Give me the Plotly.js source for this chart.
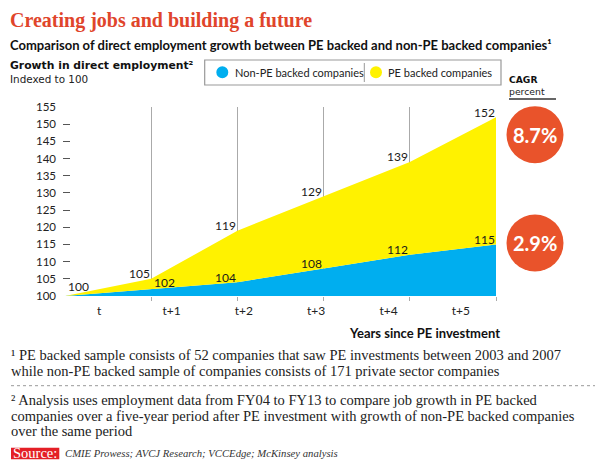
<!DOCTYPE html>
<html><head><meta charset="utf-8">
<script src="https://cdn.plot.ly/plotly-3.0.1.min.js"></script>
<style>body{margin:0;background:#fff}#chart{width:600px;height:467px}</style>
</head><body><div id="chart"></div>
<script>
// ---- data ----
const periods = ['t', 't+1', 't+2', 't+3', 't+4', 't+5'];
const stepIndex = [0, 1, 2, 3, 4, 5];
const peBacked = [100, 105, 119, 129, 139, 152];
const nonPeBacked = [100, 102, 104, 108, 112, 115];
const yTicks = [100, 105, 110, 115, 120, 125, 130, 135, 140, 145, 150, 155];
const seriesNames = ['Non-PE backed companies', 'PE backed companies'];
const cagrLabels = ['8.7%', '2.9%'];

// ---- styling / geometry ----
const SANS = 'Lato, "Open Sans", sans-serif';
const WIDE = '"DejaVu Sans", sans-serif';
const SERIF = '"Liberation Serif", "DejaVu Serif", serif';
const W = 600, H = 467;
const M = {l: 63, r: 103, t: 107, b: 171};
const PW = W - M.l - M.r, PH = H - M.t - M.b;
const px = x => (x - M.l) / PW;
const py = y => (H - M.b - y) / PH;
const BLUE = '#00AEEF', YELLOW = '#FFF200', ORANGE = '#E9532B';

const traces = [
  {x: stepIndex, y: nonPeBacked, name: seriesNames[0], type: 'scatter', mode: 'lines',
   line: {width: 0, color: BLUE}, fill: 'tozeroy', fillcolor: BLUE, hoverinfo: 'skip', showlegend: false},
  {x: stepIndex, y: peBacked, name: seriesNames[1], type: 'scatter', mode: 'lines',
   line: {width: 0, color: YELLOW}, fill: 'tonexty', fillcolor: YELLOW, hoverinfo: 'skip', showlegend: false},
  {x: periods, y: nonPeBacked, xaxis: 'x2', type: 'scatter', mode: 'markers',
   marker: {opacity: 0}, hoverinfo: 'skip', showlegend: false}
];

const annotations = [];
function txt(text, x, y, font, opts) {
  annotations.push(Object.assign({
    text: text, xref: 'paper', yref: 'paper', x: px(x), y: py(y),
    xanchor: 'left', yanchor: 'middle', showarrow: false, borderpad: 0, font: font
  }, opts || {}));
}
// data labels
peBacked.forEach((v, i) => {
  annotations.push({x: stepIndex[i], y: v, xref: 'x', yref: 'y', text: String(v), showarrow: false,
    xanchor: 'center', yanchor: 'middle', xshift: i === 0 ? 13 : -12, yshift: i === 0 ? 10 : 5,
    font: {family: SANS, size: 12, color: '#1a1a1a'}});
});
nonPeBacked.forEach((v, i) => {
  if (i === 0) return;
  annotations.push({x: stepIndex[i], y: v, xref: 'x', yref: 'y', text: String(v), showarrow: false,
    xanchor: 'center', yanchor: 'middle', xshift: i === 1 ? 13 : -12, yshift: i === 1 ? 7 : 5,
    font: {family: SANS, size: 12, color: '#1a1a1a'}});
});

// header
txt('Creating jobs and building a future', 9, 20.5, {family: SERIF, size: 20, color: '#E0452B', weight: 'bold'});
txt('Comparison of direct employment growth between PE backed and non-PE backed companies¹', 9, 45, {family: SANS, size: 13, color: '#111', weight: 'bold'});
txt('Growth in direct employment²', 9, 65.3, {family: WIDE, size: 10.8, color: '#111', weight: 'bold'});
txt('Indexed to 100', 9, 78.6, {family: WIDE, size: 10.4, color: '#222'});
// legend texts
txt(seriesNames[0], 234, 72.5, {family: SANS, size: 11, color: '#222'});
txt(seriesNames[1], 387, 72.5, {family: SANS, size: 11, color: '#222'});
// CAGR
txt('CAGR', 508, 79.7, {family: WIDE, size: 9.2, color: '#111', weight: 'bold'});
txt('percent', 508, 91.2, {family: WIDE, size: 9.3, color: '#222'});
txt(cagrLabels[0], 535, 134.7, {family: SANS, size: 20, color: '#fff', weight: 'bold'}, {xanchor: 'center'});
txt(cagrLabels[1], 535, 243, {family: SANS, size: 20, color: '#fff', weight: 'bold'}, {xanchor: 'center'});
// axis title
txt('Years since PE investment', 424, 333.3, {family: SANS, size: 13, color: '#111', weight: 'bold'}, {xanchor: 'center'});
// footnotes
const fn = {family: SERIF, size: 14.5, color: '#222'};
txt('¹ PE backed sample consists of 52 companies that saw PE investments between 2003 and 2007', 10, 355, fn);
txt('while non-PE backed sample of companies consists of 171 private sector companies', 10, 371, fn);
txt('² Analysis uses employment data from FY04 to FY13 to compare job growth in PE backed', 10, 400, fn);
txt('companies over a five-year period after PE investment with growth of non-PE backed companies', 10, 416, fn);
txt('over the same period', 10, 431, fn);
txt('Source:', 35.2, 453, {family: SERIF, size: 14.5, color: '#fff'}, {xanchor: 'center'});
txt('CMIE Prowess; AVCJ Research; VCCEdge; McKinsey analysis', 64, 453, {family: SERIF, size: 10.7, color: '#333', style: 'italic'});

const shapes = [
  // legend box
  {type: 'rect', xref: 'paper', yref: 'paper', x0: px(204.7), x1: px(501), y0: py(60), y1: py(85), line: {color: '#999', width: 1.2}, fillcolor: 'rgba(0,0,0,0)'},
  {type: 'line', xref: 'paper', yref: 'paper', x0: px(364.3), x1: px(364.3), y0: py(63), y1: py(82), line: {color: '#999', width: 1}},
  {type: 'circle', xref: 'paper', yref: 'paper', xsizemode: 'pixel', ysizemode: 'pixel', xanchor: px(222.3), yanchor: py(72.3), x0: -6, x1: 6, y0: -6, y1: 6, fillcolor: BLUE, line: {width: 0}},
  {type: 'circle', xref: 'paper', yref: 'paper', xsizemode: 'pixel', ysizemode: 'pixel', xanchor: px(376), yanchor: py(72.3), x0: -6, x1: 6, y0: -6, y1: 6, fillcolor: YELLOW, line: {width: 0}},
  // CAGR
  {type: 'line', xref: 'paper', yref: 'paper', x0: px(509), x1: px(556), y0: py(99), y1: py(99), line: {color: '#333', width: 1.5}},
  {type: 'circle', xref: 'paper', yref: 'paper', xsizemode: 'pixel', ysizemode: 'pixel', xanchor: px(535), yanchor: py(134.7), x0: -28.5, x1: 28.5, y0: -28.5, y1: 28.5, fillcolor: ORANGE, line: {width: 0}},
  {type: 'circle', xref: 'paper', yref: 'paper', xsizemode: 'pixel', ysizemode: 'pixel', xanchor: px(535), yanchor: py(243), x0: -28.5, x1: 28.5, y0: -28.5, y1: 28.5, fillcolor: ORANGE, line: {width: 0}},
  // dotted separator
  {type: 'line', xref: 'paper', yref: 'paper', x0: px(11), x1: px(595), y0: py(385.7), y1: py(385.7), line: {color: '#999', width: 1, dash: 'dot'}},
  // source box
  {type: 'rect', xref: 'paper', yref: 'paper', x0: px(11), x1: px(59.3), y0: py(447.7), y1: py(459.3), fillcolor: '#E41F26', line: {width: 0}, layer: 'below'}
];

const layout = {
  width: W, height: H, margin: M, paper_bgcolor: '#fff', plot_bgcolor: '#fff',
  showlegend: false,
  xaxis: {range: [-0.0232, 5.0116], tickvals: [1, 2, 3, 4, 5], showticklabels: false,
    ticks: 'outside', ticklen: 4, tickcolor: '#aaa', tickwidth: 1,
    showgrid: true, gridcolor: '#aaa', gridwidth: 1, zeroline: false, showline: false, layer: 'above traces', fixedrange: true},
  xaxis2: {overlaying: 'x', anchor: 'y', side: 'bottom', type: 'category', categoryarray: periods,
    range: [-0.5, 5.5], showgrid: false, zeroline: false, showline: false, ticks: '',
    tickfont: {family: SANS, size: 12, color: '#222'}, ticklabelstandoff: 6, fixedrange: true},
  yaxis: {range: [100, 155], tickvals: yTicks, ticks: 'inside', ticklen: 7, tickcolor: '#555', tickwidth: 1,
    showgrid: false, zeroline: false, showline: false, ticklabelstandoff: 6,
    tickfont: {family: SANS, size: 11.5, color: '#222'}, fixedrange: true},
  annotations: annotations, shapes: shapes
};
Plotly.newPlot('chart', traces, layout, {displayModeBar: false, staticPlot: true});
</script></body></html>
